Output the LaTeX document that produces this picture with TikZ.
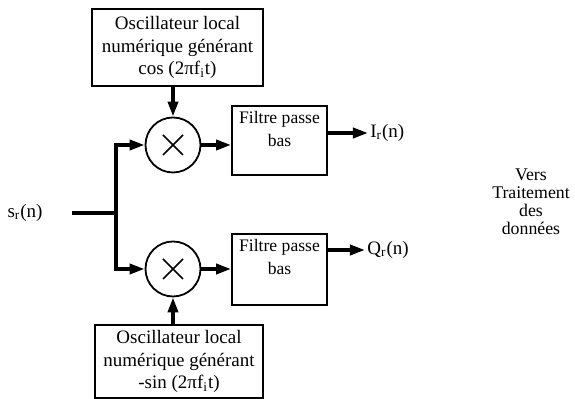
\documentclass[tikz,border=0pt]{standalone}
\usepackage{fontspec}
\setmainfont{Liberation Serif}
\usetikzlibrary{arrows.meta,calc}
\tikzset{
  every picture/.style={font=\fontsize{9.5}{11.25}\selectfont},
  oscbox/.style={draw,line width=.9pt,align=center,inner sep=0pt,font=\fontsize{9.5}{11.25}\selectfont},
  filterbox/.style={draw,line width=.9pt,inner sep=0pt,minimum width=47.5pt},
  filtertext/.style={anchor=north,align=center,inner sep=0pt,font=\fontsize{8.8}{11.5}\selectfont},
  mixer/.style={circle,draw,line width=.9pt,minimum size=27.5pt,inner sep=0pt},
  signal/.style={line width=1.8pt},
  flow/.style={signal,-{Triangle[length=7.5pt,width=5pt]}},
  siglabel/.style={inner sep=1pt,font=\fontsize{9.5}{11}\selectfont},
  sidetext/.style={align=center,font=\fontsize{8.9}{9}\selectfont},
}

\begin{document}
\begin{tikzpicture}[x=.5pt,y=-.5pt]
  % pixel grid of the scan, y downwards
  \useasboundingbox (0,0) rectangle (575,399);

  % local oscillators
  \node[oscbox,minimum width=85.5pt,minimum height=38.5pt] (oscI) at (177.5,47.5)
    {Oscillateur local\\numérique générant\\cos (2πf\textsubscript{i}t)};
  \node[oscbox,minimum width=84pt,minimum height=36.5pt] (oscQ) at (179,361.5)
    {Oscillateur local\\numérique générant\\-sin (2πf\textsubscript{i}t)};

  % mixers
  \node[mixer] (mixI) at (173,145) {};
  \node[mixer] (mixQ) at (173,269) {};
  \foreach \m in {mixI,mixQ} {
    \draw[line width=.8pt] (\m.center) ++(-10,-10) -- ++(20,20);
    \draw[line width=.8pt] (\m.center) ++(-10,10) -- ++(20,-20);
  }

  % low-pass filters, text sits at the top
  \node[filterbox,minimum height=34.5pt] (filtI) at (279.5,140.5) {};
  \node[filterbox,minimum height=35.5pt] (filtQ) at (279.5,269.5) {};
  \node[filtertext,yshift=-3pt] at (filtI.north) {Filtre passe\\bas};
  \node[filtertext,yshift=-3pt] at (filtQ.north) {Filtre passe\\bas};

  % input and split
  \node[siglabel] (sr) at (25,213) {s\textsubscript{r}(n)};
  \coordinate (in) at (72,213);
  \coordinate (split) at (116,213);
  \draw[signal] (in) -- (split);
  \draw[flow] (split) |- (mixI.west);
  \draw[flow] (split) |- (mixQ.west);

  \draw[flow] (oscI.south -| mixI.north) -- (mixI.north);
  \draw[flow] (oscQ.north -| mixQ.south) -- (mixQ.south);
  \draw[flow] (mixI.east) -- (mixI.east -| filtI.west);
  \draw[flow] (mixQ.east) -- (mixQ.east -| filtQ.west);

  % outputs
  \node[siglabel,anchor=west] (outI) at (368,133) {I\textsubscript{r}(n)};
  \node[siglabel,anchor=west] (outQ) at (365,250) {Q\textsubscript{r}(n)};
  \draw[flow] (filtI.east |- outI.west) -- (outI.west);
  \draw[flow] (filtQ.east |- outQ.west) -- (outQ.west);

  \node[sidetext] (dest) at (531,202) {Vers\\Traitement\\des\\données};
\end{tikzpicture}
\end{document}
